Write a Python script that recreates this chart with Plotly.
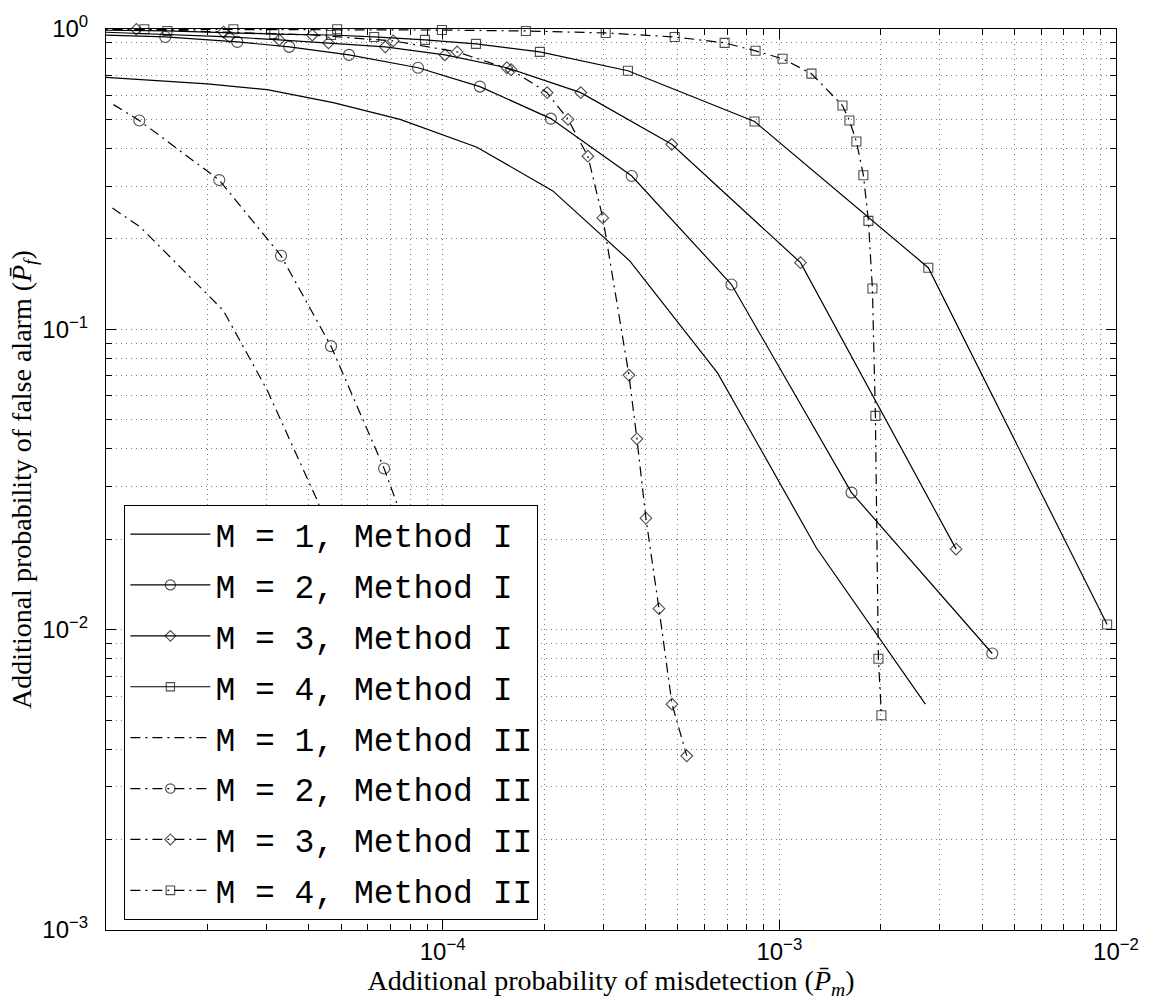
import plotly.graph_objects as go

# ---------------- data ----------------
# Method I
m1_I_x = [9.0e-6, 2.0e-5, 3.01e-5, 4.73e-5, 7.47e-5, 1.264e-4, 2.124e-4, 3.595e-4, 6.56e-4, 1.289e-3, 2.715e-3]
m1_I_y = [0.695, 0.657, 0.628, 0.569, 0.50, 0.404, 0.289, 0.169, 0.0715, 0.0187, 0.00565]

m2_I_x = [9.0e-6, 1.50e-5, 2.454e-5, 3.50e-5, 5.27e-5, 8.45e-5, 1.290e-4, 2.096e-4, 3.645e-4, 7.21e-4, 1.638e-3, 4.29e-3]
m2_I_y = [0.957, 0.941, 0.906, 0.872, 0.820, 0.743, 0.643, 0.503, 0.324, 0.141, 0.0286, 0.00833]

m3_I_x = [9.0e-6, 2.326e-5, 3.27e-5, 4.58e-5, 6.75e-5, 1.016e-4, 1.551e-4, 2.572e-4, 4.79e-4, 1.156e-3, 3.35e-3]
m3_I_y = [0.980, 0.941, 0.920, 0.899, 0.872, 0.820, 0.743, 0.614, 0.413, 0.1667, 0.01854]

m4_I_x = [9.0e-6, 1.521e-5, 3.16e-5, 4.66e-5, 6.26e-5, 8.86e-5, 1.256e-4, 1.944e-4, 3.55e-4, 8.44e-4, 2.77e-3, 9.41e-3]
m4_I_y = [0.992, 0.985, 0.962, 0.955, 0.941, 0.920, 0.892, 0.839, 0.726, 0.492, 0.1604, 0.0104]

# Method II
m1_II_x = [1.045e-5, 1.265e-5, 2.23e-5, 3.01e-5, 4.27e-5, 4.79e-5]
m1_II_y = [0.2535, 0.219, 0.1156, 0.0628, 0.0265, 0.0168]

m2_II_x = [1.052e-5, 1.256e-5, 2.170e-5, 3.31e-5, 4.66e-5, 6.70e-5, 8.05e-5]
m2_II_y = [0.560, 0.496, 0.314, 0.1758, 0.0879, 0.0344, 0.0196]

m3_II_x = [9.0e-6, 1.231e-5, 2.233e-5, 4.10e-5, 7.13e-5, 1.104e-4, 1.597e-4, 2.042e-4, 2.357e-4,
           2.70e-4, 2.99e-4, 3.575e-4, 3.776e-4, 4.015e-4, 4.39e-4, 4.80e-4, 5.31e-4]
m3_II_y = [0.998, 0.997, 0.977, 0.955, 0.913, 0.839, 0.732, 0.614, 0.500,
           0.377, 0.235, 0.0704, 0.0432, 0.0235, 0.01175, 0.00565, 0.0038]

m4_II_x = [9.0e-6, 1.30e-5, 2.39e-5, 4.86e-5, 9.95e-5, 1.767e-4, 3.05e-4, 4.89e-4, 6.88e-4, 8.50e-4,
           1.022e-3, 1.246e-3, 1.540e-3, 1.615e-3, 1.694e-3, 1.777e-3, 1.839e-3, 1.890e-3, 1.929e-3,
           1.969e-3, 2.010e-3]
m4_II_y = [0.999, 0.998, 0.998, 0.998, 0.992, 0.985, 0.970, 0.941, 0.899, 0.846,
           0.796, 0.710, 0.556, 0.496, 0.422, 0.326, 0.2296, 0.1367, 0.0515,
           0.0080, 0.00519]

series_names = ["M = 1, Method I", "M = 2, Method I", "M = 3, Method I", "M = 4, Method I",
                "M = 1, Method II", "M = 2, Method II", "M = 3, Method II", "M = 4, Method II"]

x_tick_vals = [1e-4, 1e-3, 1e-2]
x_tick_text = ["10<sup>\u22124</sup>", "10<sup>\u22123</sup>", "10<sup>\u22122</sup>"]
y_tick_vals = [1e-3, 1e-2, 1e-1, 1]
y_tick_text = ["10<sup>\u22123</sup>", "10<sup>\u22122</sup>", "10<sup>\u22121</sup>", "10<sup>0</sup>"]

# ---------------- styles ----------------
DASHDOT = "10px,5px,2px,5px"
series = [
    (m1_I_x, m1_I_y, None, "solid", 0),
    (m2_I_x, m2_I_y, "circle-open", "solid", 1),
    (m3_I_x, m3_I_y, "diamond-open", "solid", 1),
    (m4_I_x, m4_I_y, "square-open", "solid", 1),
    (m1_II_x, m1_II_y, None, DASHDOT, 0),
    (m2_II_x, m2_II_y, "circle-open", DASHDOT, 1),
    (m3_II_x, m3_II_y, "diamond-open", DASHDOT, 1),
    (m4_II_x, m4_II_y, "square-open", DASHDOT, 1),
]
marker_size = {"circle-open": 11, "diamond-open": 9, "square-open": 9}

fig = go.Figure()
for i, (xs, ys, sym, dash, lead_hidden) in enumerate(series):
    kw = dict(x=xs, y=ys, name=series_names[i], legendgroup="g%d" % i,
              line=dict(color="black", width=1.2, dash=dash), cliponaxis=False)
    if sym is None:
        kw["mode"] = "lines"
    else:
        sizes = [0] * lead_hidden + [marker_size[sym]] * (len(xs) - lead_hidden)
        kw["mode"] = "lines+markers"
        kw["marker"] = dict(symbol=sym, size=sizes, color="black", line=dict(width=1.1, color="black"))
    fig.add_trace(go.Scatter(**kw))

GRID = "#7a7a7a"
GRIDDASH = "1px,4px"
TICKFONT = dict(family="Liberation Sans, Arial, sans-serif", size=24, color="black")
TITLEFONT = dict(family="Liberation Serif, Times New Roman, serif", size=28, color="black")


def minor_vals(lo, hi):
    vals = []
    for e in range(lo, hi):
        for m in range(2, 10):
            vals.append(m * 10.0 ** e)
    return vals


common = dict(type="log", showline=True, linecolor="black", linewidth=1, mirror="allticks",
              ticks="inside", ticklen=10, tickwidth=1, tickcolor="black",
              showgrid=True, gridcolor=GRID, griddash=GRIDDASH, gridwidth=1, zeroline=False,
              tickfont=TICKFONT, tickmode="array")

fig.update_xaxes(**common, range=[-5, -2], tickvals=x_tick_vals, ticktext=x_tick_text,
                 ticklabelstandoff=0,
                 minor=dict(tickmode="array", tickvals=minor_vals(-5, -2), ticks="inside", ticklen=6,
                            tickcolor="black", showgrid=True, gridcolor=GRID, griddash=GRIDDASH, gridwidth=1),
                 title=dict(text="Additional probability of misdetection (<i>P\u0304</i><sub><i>m</i></sub>)",
                            font=TITLEFONT, standoff=4))
fig.update_yaxes(**common, range=[-3, 0], tickvals=y_tick_vals, ticktext=y_tick_text,
                 ticklabelstandoff=12,
                 minor=dict(tickmode="array", tickvals=minor_vals(-3, 0), ticks="inside", ticklen=6,
                            tickcolor="black", showgrid=True, gridcolor=GRID, griddash=GRIDDASH, gridwidth=1),
                 title=dict(text="Additional probability of false alarm (<i>P\u0304</i><sub><i>f</i></sub>)",
                            font=TITLEFONT, standoff=2))

fig.update_layout(
    width=1151, height=1003,
    margin=dict(l=106, r=34, t=24, b=73),
    paper_bgcolor="white", plot_bgcolor="white",
    showlegend=True,
    legend=dict(x=0.0182, y=0.011, xanchor="left", yanchor="bottom",
                bgcolor="white", bordercolor="black", borderwidth=1,
                font=dict(family="Liberation Mono, Courier New, monospace", size=33, color="black"),
                traceorder="grouped", tracegroupgap=5, itemwidth=80),
)

fig.write_html("out.html")
